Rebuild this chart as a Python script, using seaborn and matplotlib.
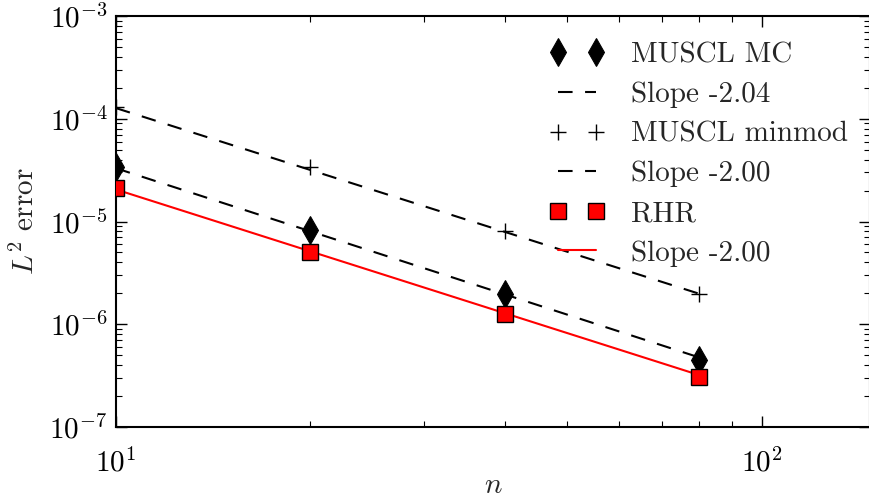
import numpy as np
import pandas as pd
import seaborn as sns
import matplotlib.pyplot as plt

# valores
n = [10, 20, 40, 80]
err_mc = [3.4e-5, 8.2e-6, 1.95e-6, 4.5e-7]
err_minmod = [1.3e-4, 3.4e-5, 8.1e-6, 1.97e-6]
err_rhr = [2.1e-5, 5.1e-6, 1.25e-6, 3.05e-7]

# rectas de ajuste (extremos)
n_fit = [10, 80]
fit_mc = [3.3e-5, 4.75e-7]
fit_minmod = [1.27e-4, 1.98e-6]
fit_rhr = [2.05e-5, 3.2e-7]

sns.set_style("ticks")
plt.rcParams.update({
    "font.family": "serif",
    "font.serif": ["cmr10"],
    "mathtext.fontset": "cm",
    "axes.formatter.use_mathtext": True,
    "font.size": 21,
    "axes.linewidth": 1.5,
    "xtick.direction": "in", "ytick.direction": "in",
    "xtick.top": True, "ytick.right": True,
    "xtick.major.size": 8, "ytick.major.size": 8,
    "xtick.minor.size": 4, "ytick.minor.size": 4,
    "xtick.major.width": 1.0, "ytick.major.width": 1.0,
    "xtick.minor.width": 0.8, "ytick.minor.width": 0.8,
    "xtick.color": "black", "ytick.color": "black",
    "axes.edgecolor": "black",
})

fig = plt.figure(figsize=(8.7, 5.01), dpi=100)
ax = fig.add_axes([0.1333, 0.1477, 0.8667, 0.8203])
ax.set(xscale="log", yscale="log")

dash = (7, 6)
sns.lineplot(x=n, y=err_mc, ax=ax, color="black", linestyle="", marker="d",
             markersize=14, markeredgecolor="black", label="MUSCL MC")
sns.lineplot(x=n_fit, y=fit_mc, ax=ax, color="black", linewidth=1.5,
             dashes=dash, label="Slope -2.04")
sns.lineplot(x=n, y=err_minmod, ax=ax, color="black", linestyle="", marker="+",
             markersize=12, markeredgewidth=1.0, markeredgecolor="black",
             label="MUSCL minmod")
sns.lineplot(x=n_fit, y=fit_minmod, ax=ax, color="black", linewidth=1.5,
             dashes=dash, label="Slope -2.00")
sns.lineplot(x=n, y=err_rhr, ax=ax, color="red", linestyle="", marker="s",
             markersize=12, markeredgecolor="black", markeredgewidth=1.0,
             label="RHR", zorder=5)
sns.lineplot(x=n_fit, y=fit_rhr, ax=ax, color="red", linewidth=1.5,
             label="Slope -2.00")

for ln in ax.lines:
    ln.set_clip_on(True)

ax.set_xlim(10, 147)
ax.set_ylim(1e-7, 1e-3)
ax.set_xlabel("$n$", labelpad=-3)
ax.set_ylabel("$L^2$ error", labelpad=7)
ax.tick_params(axis="x", pad=15)
ax.tick_params(axis="y", pad=6)

ax.legend(loc="upper right", bbox_to_anchor=(1.005, 1.0), frameon=False,
          numpoints=2, handlelength=1.9, handletextpad=0.9, labelspacing=0.45)

plt.savefig("out.png", dpi=100)
